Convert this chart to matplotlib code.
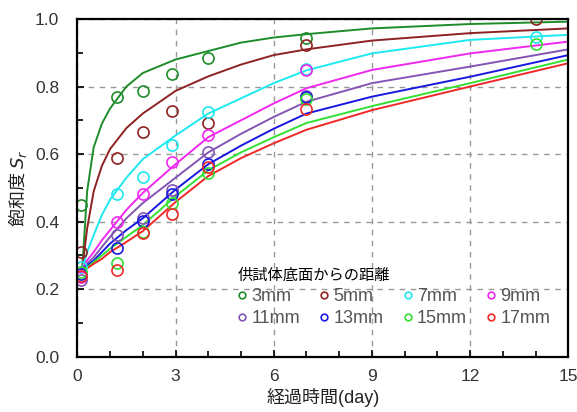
import numpy as np
import matplotlib.pyplot as plt
from matplotlib.ticker import MultipleLocator

plt.rcParams['font.family'] = ['Liberation Sans', 'Noto Sans CJK JP']
plt.rcParams['mathtext.fontset'] = 'dejavusans'

# legend labels and colours
labels = ['3mm', '5mm', '7mm', '9mm', '11mm', '13mm', '15mm', '17mm']
colors = ['#1e8c2a', '#8e2222', '#1ee8f0', '#f028f0',
          '#8455b4', '#1818e0', '#34e034', '#f02828']

# fitted curves
t_fit = [0.15, 0.3, 0.5, 0.75, 1, 1.5, 2, 3, 4, 5, 6, 7, 9, 12, 15]
s_fit = [
    [0.26, 0.49, 0.62, 0.69, 0.735, 0.80, 0.84, 0.88, 0.905, 0.93, 0.945, 0.955, 0.972, 0.985, 0.992],
    [0.26, 0.38, 0.49, 0.565, 0.615, 0.677, 0.72, 0.787, 0.83, 0.865, 0.893, 0.91, 0.936, 0.958, 0.972],
    [0.26, 0.31, 0.36, 0.42, 0.465, 0.53, 0.585, 0.655, 0.72, 0.765, 0.81, 0.848, 0.898, 0.938, 0.953],
    [0.26, 0.285, 0.31, 0.345, 0.375, 0.435, 0.485, 0.57, 0.65, 0.70, 0.75, 0.795, 0.849, 0.898, 0.933],
    [0.26, 0.275, 0.295, 0.325, 0.355, 0.41, 0.455, 0.53, 0.605, 0.66, 0.71, 0.755, 0.81, 0.859, 0.91],
    [0.26, 0.27, 0.285, 0.31, 0.335, 0.375, 0.41, 0.495, 0.57, 0.625, 0.675, 0.72, 0.77, 0.829, 0.893],
    [0.26, 0.265, 0.28, 0.30, 0.32, 0.355, 0.39, 0.475, 0.552, 0.605, 0.65, 0.692, 0.742, 0.81, 0.88],
    [0.26, 0.262, 0.275, 0.29, 0.31, 0.34, 0.372, 0.458, 0.535, 0.588, 0.632, 0.672, 0.73, 0.80, 0.869],
]

# measured points (nan = no point)
t_obs = [0.1, 1.2, 2.0, 2.9, 4.0, 7.0, 14.0]
nan = np.nan
s_obs = [
    [0.45, 0.768, 0.787, 0.837, 0.884, 0.945, nan],
    [0.31, 0.588, 0.665, 0.729, 0.691, 0.922, 1.0],
    [0.265, 0.481, 0.533, 0.627, 0.724, 0.852, 0.948],
    [0.235, 0.40, 0.481, 0.578, 0.657, 0.848, nan],
    [0.228, 0.36, 0.41, 0.494, 0.607, 0.772, nan],
    [0.245, 0.323, 0.402, 0.482, 0.571, 0.768, nan],
    [0.25, 0.279, 0.37, 0.455, 0.545, 0.762, 0.926],
    [0.24, 0.257, 0.365, 0.423, 0.561, 0.733, nan],
]

fig = plt.figure(figsize=(5.77, 4.12), dpi=100)
ax = fig.add_axes([0.134, 0.134, 0.851, 0.82])

for n in range(len(labels)):
    ax.plot(t_fit, s_fit[n], '-', color=colors[n], lw=1.4)
handles = []
for n in range(len(labels)):
    h, = ax.plot(t_obs, s_obs[n], 'o', mfc='none', mec=colors[n], mew=1.2,
                 ms=8, label=labels[n])
    handles.append(h)

ax.set_xlim(0, 15)
ax.set_ylim(0, 1.0)
ax.xaxis.set_major_locator(MultipleLocator(3))
ax.xaxis.set_minor_locator(MultipleLocator(1))
ax.yaxis.set_major_locator(MultipleLocator(0.2))
ax.yaxis.set_minor_locator(MultipleLocator(0.1))
ax.yaxis.set_major_formatter(plt.FormatStrFormatter('%.1f'))
ax.tick_params(which='both', direction='in', labelsize=12.5,
               labelcolor='#333333')
ax.tick_params(axis='y', pad=13)
ax.tick_params(axis='x', pad=9)
ax.tick_params(which='major', length=5, width=1.2)
ax.tick_params(which='minor', length=4, width=1.2)
for sp in ax.spines.values():
    sp.set_linewidth(1.6)
ax.grid(True, which='major', ls=(0, (4, 4)), color='#999999', lw=1.0)
ax.set_axisbelow(True)

ax.set_xlabel('経過時間(day)', fontsize=13, color='#222222', labelpad=3)
ax.set_ylabel('飽和度 $S_r$', fontsize=13, color='#222222', labelpad=4,
              family=['Noto Sans CJK JP'])

# legend filled row by row (matplotlib fills columns first)
order = [0, 4, 1, 5, 2, 6, 3, 7]
leg = ax.legend([handles[i] for i in order], [labels[i] for i in order],
                ncol=4, loc='lower right', bbox_to_anchor=(0.985, 0.055),
                frameon=False, title='供試体底面からの距離',
                fontsize=13, title_fontsize=11, markerscale=0.6,
                handlelength=0.5, handletextpad=0.25, columnspacing=1.1,
                labelspacing=0.3, borderaxespad=0.2)
leg._legend_box.align = 'left'
for txt in leg.get_texts():
    txt.set_color('#555555')

fig.savefig('out.png', dpi=100)
